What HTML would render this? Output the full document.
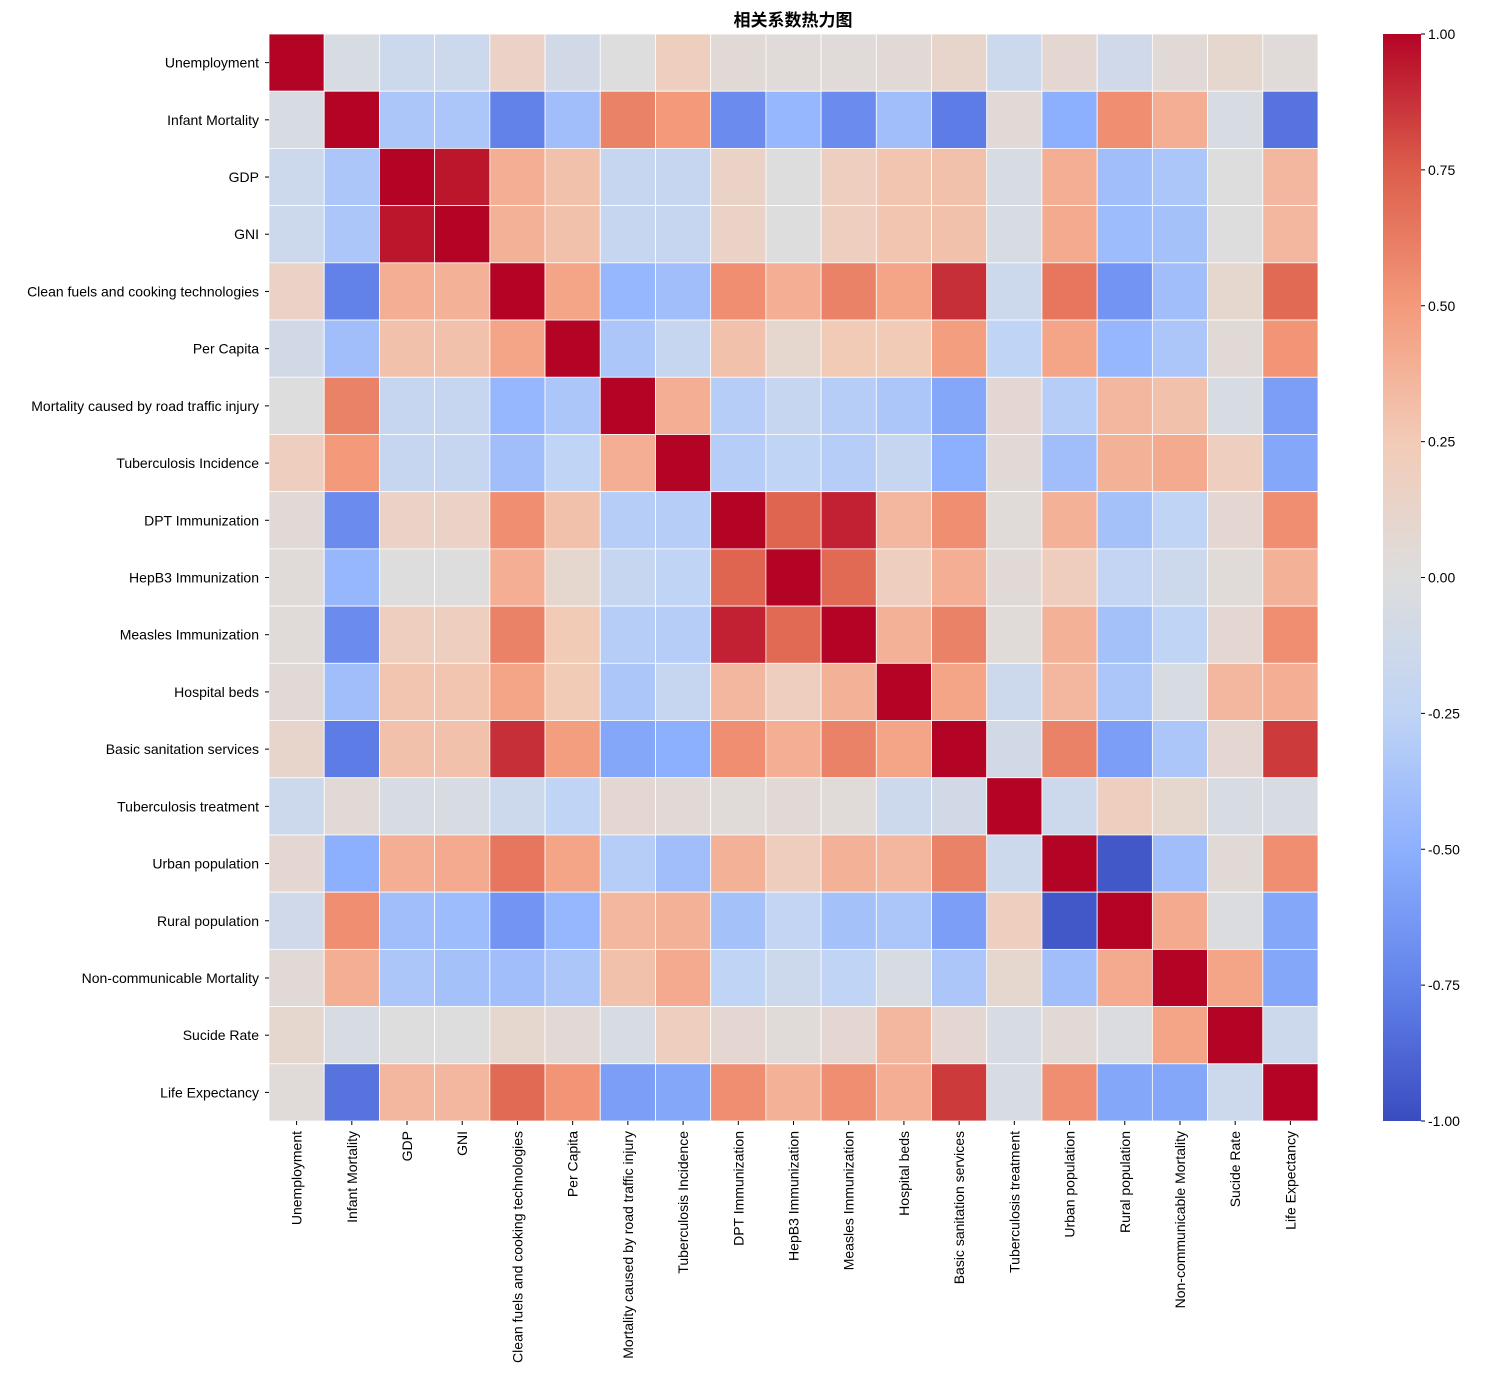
<!DOCTYPE html>
<html><head><meta charset="utf-8"><style>
body{margin:0;background:#fff;}
svg text{font-family:"Liberation Sans","Noto Sans CJK SC",sans-serif;font-size:14px;fill:#000;}
</style></head><body>
<svg id="chart" width="1491" height="1390" xmlns="http://www.w3.org/2000/svg">
<text x="793" y="26" text-anchor="middle" style="font-size:17px;font-weight:bold">相关系数热力图</text>
<g id="cells"></g><g id="rlabels"></g><g id="clabels"></g><g id="cbar"></g>
</svg>
<script>
const labels=["Unemployment","Infant Mortality","GDP","GNI","Clean fuels and cooking technologies","Per Capita","Mortality caused by road traffic injury","Tuberculosis Incidence","DPT Immunization","HepB3 Immunization","Measles Immunization","Hospital beds","Basic sanitation services","Tuberculosis treatment","Urban population","Rural population","Non-communicable Mortality","Sucide Rate","Life Expectancy"];
const values=[
[1,-0.05,-0.15,-0.15,0.15,-0.1,0.0,0.2,0.05,0.03,0.03,0.05,0.12,-0.15,0.08,-0.12,0.05,0.1,0.03],
[-0.05,1,-0.35,-0.35,-0.75,-0.4,0.6,0.5,-0.7,-0.45,-0.7,-0.4,-0.78,0.05,-0.5,0.55,0.4,-0.05,-0.82],
[-0.15,-0.35,1,0.95,0.4,0.3,-0.2,-0.2,0.15,0.0,0.2,0.28,0.3,-0.05,0.4,-0.4,-0.35,0.0,0.35],
[-0.15,-0.35,0.95,1,0.38,0.3,-0.2,-0.2,0.15,0.0,0.2,0.28,0.3,-0.05,0.42,-0.42,-0.38,0.0,0.35],
[0.15,-0.75,0.4,0.38,1,0.45,-0.45,-0.4,0.55,0.4,0.6,0.45,0.88,-0.15,0.65,-0.65,-0.4,0.1,0.7],
[-0.1,-0.4,0.3,0.3,0.45,1,-0.35,-0.2,0.3,0.1,0.25,0.25,0.48,-0.25,0.45,-0.45,-0.35,0.05,0.52],
[0.0,0.6,-0.2,-0.2,-0.45,-0.35,1,0.4,-0.3,-0.2,-0.3,-0.35,-0.55,0.08,-0.3,0.35,0.3,-0.05,-0.6],
[0.2,0.5,-0.2,-0.2,-0.4,-0.25,0.4,1,-0.3,-0.25,-0.3,-0.2,-0.5,0.05,-0.4,0.38,0.42,0.2,-0.55],
[0.05,-0.7,0.15,0.15,0.55,0.3,-0.3,-0.3,1,0.72,0.92,0.35,0.55,0.03,0.38,-0.38,-0.25,0.08,0.55],
[0.03,-0.45,0.0,0.0,0.4,0.1,-0.2,-0.25,0.72,1,0.7,0.2,0.4,0.05,0.22,-0.22,-0.15,0.03,0.38],
[0.03,-0.7,0.2,0.2,0.6,0.25,-0.3,-0.3,0.92,0.7,1,0.38,0.6,0.03,0.38,-0.38,-0.25,0.08,0.55],
[0.05,-0.4,0.28,0.28,0.45,0.25,-0.35,-0.2,0.35,0.2,0.38,1,0.45,-0.15,0.35,-0.35,-0.05,0.35,0.4],
[0.12,-0.78,0.3,0.3,0.88,0.48,-0.55,-0.5,0.55,0.4,0.6,0.45,1,-0.1,0.6,-0.6,-0.35,0.08,0.85],
[-0.15,0.05,-0.05,-0.05,-0.15,-0.25,0.08,0.05,0.03,0.05,0.03,-0.15,-0.1,1,-0.15,0.2,0.1,-0.05,-0.05],
[0.08,-0.5,0.4,0.42,0.65,0.45,-0.3,-0.4,0.38,0.22,0.38,0.35,0.6,-0.15,1,-0.95,-0.4,0.05,0.55],
[-0.12,0.55,-0.4,-0.42,-0.65,-0.45,0.35,0.38,-0.38,-0.22,-0.38,-0.35,-0.6,0.2,-0.95,1,0.42,-0.03,-0.55],
[0.05,0.4,-0.35,-0.38,-0.4,-0.35,0.3,0.42,-0.25,-0.15,-0.25,-0.05,-0.35,0.1,-0.4,0.42,1,0.45,-0.55],
[0.1,-0.05,0.0,0.0,0.1,0.05,-0.05,0.2,0.08,0.03,0.08,0.35,0.08,-0.05,0.05,-0.03,0.45,1,-0.15],
[0.03,-0.82,0.35,0.35,0.7,0.52,-0.6,-0.55,0.55,0.38,0.55,0.4,0.85,-0.05,0.55,-0.55,-0.55,-0.15,1]];
const cbTicks=[1,0.75,0.5,0.25,0,-0.25,-0.5,-0.75,-1];

const X0=269,X1=1318,Y0=34,Y1=1121,N=labels.length;
const cw=(X1-X0)/N,ch=(Y1-Y0)/N;
const stops=[[58,76,192],[98,130,234],[141,176,254],[192,212,245],[221,221,221],[242,203,183],[244,154,123],[220,94,75],[180,4,38]];
function color(v){let t=(v+1)/2*8;t=Math.max(0,Math.min(8,t));const i=Math.min(7,Math.floor(t)),f=t-i;const a=stops[i],b=stops[i+1];return `rgb(${a.map((c,k)=>Math.round(c+(b[k]-c)*f)).join(',')})`;}
const NS="http://www.w3.org/2000/svg";
function mk(tag,attrs,parent){const e=document.createElementNS(NS,tag);for(const k in attrs)e.setAttribute(k,attrs[k]);parent.appendChild(e);return e;}
const cells=document.getElementById('cells');
for(let r=0;r<N;r++)for(let c=0;c<N;c++){
 const e=mk('rect',{x:X0+c*cw,y:Y0+r*ch,width:cw,height:ch,fill:color(values[r][c]),stroke:'#fff','stroke-width':0.8},cells);
 
 
}
const rl=document.getElementById('rlabels'),cl=document.getElementById('clabels');
labels.forEach((l,i)=>{
 const y=Y0+(i+0.5)*ch;
 mk('line',{x1:X0-4,x2:X0,y1:y,y2:y,stroke:'#000'},rl);
 const t=mk('text',{x:X0-10,y:y+5,'text-anchor':'end'},rl);t.textContent=l;
 
 
 const x=X0+(i+0.5)*cw;
 mk('line',{x1:x,x2:x,y1:Y1,y2:Y1+4,stroke:'#000'},cl);
 const u=mk('text',{x:0,y:0,'text-anchor':'end',transform:`translate(${x+5},${Y1+10}) rotate(-90)`},cl);u.textContent=l;
 
 
});
const cb=document.getElementById('cbar');
const CX=1383,CW=38;
const defs=mk('defs',{},cb);const g=mk('linearGradient',{id:'cg',x1:0,y1:1,x2:0,y2:0},defs);
for(let i=0;i<=32;i++){const v=-1+2*i/32;mk('stop',{offset:(i/32),'stop-color':color(v)},g);}
const bar=mk('rect',{x:CX,y:Y0,width:CW,height:Y1-Y0,fill:'url(#cg)'},cb);


cbTicks.forEach(v=>{const y=Y0+(1-v)/2*(Y1-Y0);
 mk('line',{x1:CX+CW,x2:CX+CW+4,y1:y,y2:y,stroke:'#000'},cb);
 const t=mk('text',{x:CX+CW+7,y:y+5},cb);t.textContent=v.toFixed(2);
 
 
});
</script>
</body></html>
